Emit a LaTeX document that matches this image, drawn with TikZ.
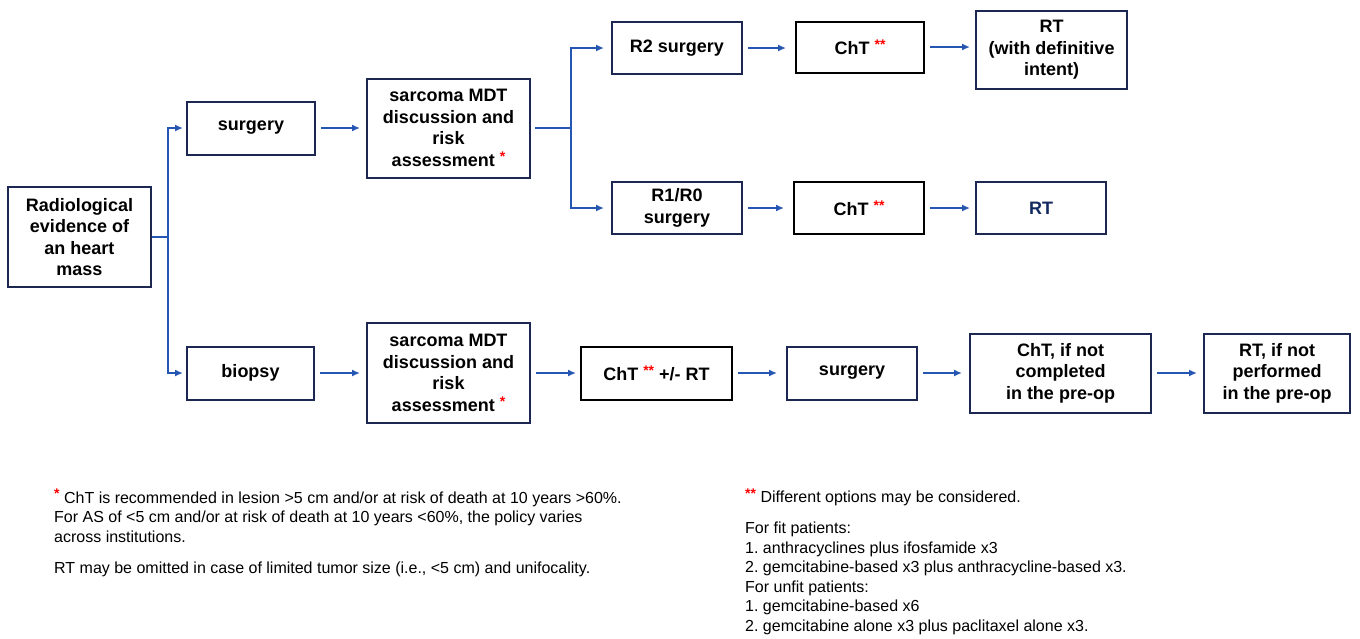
\documentclass[tikz,border=0pt]{standalone}
\usepackage{fontspec}
\setmainfont{Liberation Sans}
\usetikzlibrary{arrows.meta}

\definecolor{boxnavy}{RGB}{28,40,82}
\definecolor{rtnavy}{RGB}{18,42,96}
\definecolor{linkblue}{RGB}{36,86,178}
\newcommand{\rstar}{\textcolor{red}{\raisebox{0.28em}{\fontsize{14}{14}\selectfont\bfseries *}}}
\newcommand{\rstars}{\textcolor{red}{\raisebox{0.28em}{\fontsize{14}{14}\selectfont\bfseries **}}}
\frenchspacing

\tikzset{
  stepbox/.style={draw=boxnavy, line width=2pt, align=center, inner sep=0pt,
    font=\fontsize{18}{21.5}\selectfont\bfseries},
  chtbox/.style={stepbox, draw=black},
  link/.style={draw=linkblue, line width=2pt},
  flow/.style={link, -{Latex[length=8pt,width=7pt]}, shorten <=5pt, shorten >=5pt},
  note/.style={anchor=base west, align=left, inner sep=0pt, font=\fontsize{16}{19.5}\selectfont}
}

\begin{document}
\begin{tikzpicture}[x=1pt,y=-1pt]
\useasboundingbox (0,0) rectangle (1360,638);

% boxes
\node[stepbox, minimum width=143, minimum height=100] (rad) at (79.5,237) {Radiological\\evidence of\\an heart\\mass};
\node[stepbox, minimum width=128, minimum height=53] (surg1) at (251,128) {surgery};
\node[stepbox, minimum width=163, minimum height=99] (mdt1) at (448.5,128) {sarcoma MDT\\discussion and\\risk\\assessment \rstar};
\node[stepbox, minimum width=130, minimum height=52] (r2) at (677,48) {R2 surgery};
\node[chtbox, minimum width=128, minimum height=51] (cht1) at (860,47) {ChT \rstars};
\node[stepbox, minimum width=151, minimum height=78] (rt1) at (1051.5,50) {RT\\(with definitive\\intent)};
\node[stepbox, minimum width=130, minimum height=52] (r1) at (677,208) {R1/R0\\surgery};
\node[chtbox, minimum width=130, minimum height=52] (cht2) at (859,208) {ChT \rstars};
\node[stepbox, minimum width=130, minimum height=52, text=rtnavy] (rt2) at (1041,208) {RT};
\node[stepbox, minimum width=127, minimum height=53] (biop) at (250.5,373) {biopsy};
\node[stepbox, minimum width=163, minimum height=100] (mdt2) at (448.5,373) {sarcoma MDT\\discussion and\\risk\\assessment \rstar};
\node[chtbox, minimum width=151, minimum height=53] (cht3) at (656.5,373) {ChT \rstars{} +/- RT};
\node[stepbox, minimum width=130, minimum height=53] (surg2) at (852,373) {surgery};
\node[stepbox, minimum width=181, minimum height=79] (chtif) at (1060.5,373) {ChT, if not\\completed\\in the pre-op};
\node[stepbox, minimum width=146, minimum height=79] (rtif) at (1277,373) {RT, if not\\performed\\in the pre-op};

% connectors
\coordinate (fork1) at (168,237);
\coordinate (fork2) at (571,128);
\draw[link] (rad.east) -- (fork1);
\draw[flow, shorten <=0pt, shorten >=3pt] (fork1) |- (surg1.west);
\draw[flow, shorten <=0pt, shorten >=3pt] (fork1) |- (biop.west);
\draw[flow, shorten >=6pt] (surg1.east) -- (surg1.east -| mdt1.west);
\draw[flow, shorten >=6pt] (biop.east) -- (biop.east -| mdt2.west);
\draw[link, shorten <=4pt] (mdt1.east) -- (fork2);
\draw[flow, shorten <=0pt, shorten >=7pt] (fork2) |- (r2.west);
\draw[flow, shorten <=0pt, shorten >=7pt] (fork2) |- (r1.west);
\draw[flow, shorten >=9pt] (r2.east) -- (r2.east -| cht1.west);
\draw[flow] (cht1.east) -- (cht1.east -| rt1.west);
\draw[flow, shorten >=9pt] (r1.east) -- (r1.east -| cht2.west);
\draw[flow] (cht2.east) -- (cht2.east -| rt2.west);
\draw[flow, shorten >=4pt] (mdt2.east) -- (mdt2.east -| cht3.west);
\draw[flow, shorten >=9pt] (cht3.east) -- (cht3.east -| surg2.west);
\draw[flow, shorten >=7pt] (surg2.east) -- (surg2.east -| chtif.west);
\draw[flow, shorten >=6pt] (chtif.east) -- (chtif.east -| rtif.west);

% footnotes (base = last line)
\node[note] (noteone) at (54,573) {\rstar{} ChT is recommended in lesion >5 cm and/or at risk of death at 10 years >60\%.\\For AS of <5 cm and/or at risk of death at 10 years <60\%, the policy varies\\across institutions.\\[11.5pt]RT may be omitted in case of limited tumor size (i.e., <5 cm) and unifocality.};
\node[note] (notetwo) at (745,631) {\rstars{} Different options may be considered.\\[11.5pt]For fit patients:\\1. anthracyclines plus ifosfamide x3\\2. gemcitabine-based x3 plus anthracycline-based x3.\\For unfit patients:\\1. gemcitabine-based x6\\2. gemcitabine alone x3 plus paclitaxel alone x3.};
\end{tikzpicture}
\end{document}
